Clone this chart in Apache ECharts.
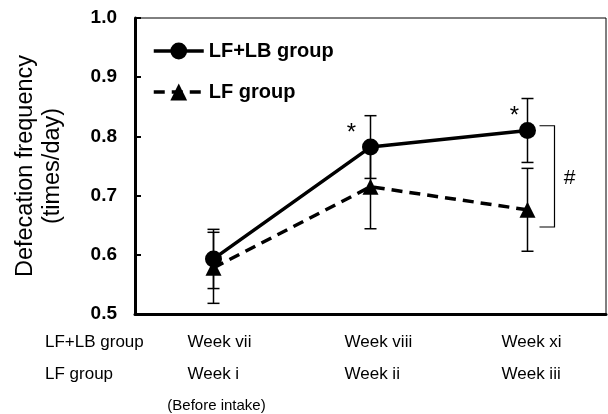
<!DOCTYPE html>
<html>
<head>
<meta charset="utf-8">
<script src="https://cdn.jsdelivr.net/npm/echarts@6/dist/echarts.min.js"></script>
<style>html,body{margin:0;padding:0;background:#fff}#c{width:608px;height:414px}</style>
</head>
<body>
<div id="c"></div>
<script>
const categories = ['Week vii', 'Week viii', 'Week xi'];
const lfWeeks = ['Week i', 'Week ii', 'Week iii'];
const rowLabels = ['LF+LB group', 'LF group'];
const seriesNames = ['LF+LB group', 'LF group'];
const lfLbMean = [0.593, 0.782, 0.810];
const lfLbSd = [0.050, 0.053, 0.054];
const lfMean = [0.578, 0.715, 0.676];
const lfSd = [0.060, 0.071, 0.070];
const yTicks = [0.5, 0.6, 0.7, 0.8, 0.9, 1.0];
const yName = ['Defecation frequency', '(times/day)'];
const beforeNote = '(Before intake)';
const starIdx = [1, 2];
const bracket = [0.818, 0.647];

const FONT = '"Liberation Sans", Arial, sans-serif';
const chart = echarts.init(document.getElementById('c'), null, {renderer: 'canvas'});

function errRender(params, api) {
  const x = api.value(0), m = api.value(1), s = api.value(2);
  const t = api.coord([x, m + s]), b = api.coord([x, m - s]);
  const st = {stroke: '#000', lineWidth: 1.5};
  const h = 6;
  return {type: 'group', children: [
    {type: 'line', shape: {x1: t[0], y1: t[1], x2: b[0], y2: b[1]}, style: st},
    {type: 'line', shape: {x1: t[0] - h, y1: t[1], x2: t[0] + h, y2: t[1]}, style: st},
    {type: 'line', shape: {x1: b[0] - h, y1: b[1], x2: b[0] + h, y2: b[1]}, style: st}
  ]};
}

chart.setOption({
  animation: false,
  grid: {left: 135, right: 2, top: 18, bottom: 100, show: true, borderColor: '#000', borderWidth: 1},
  legend: {
    orient: 'vertical', left: 147, top: 36, itemWidth: 50, itemHeight: 21, itemGap: 21,
    data: seriesNames,
    lineStyle: {width: 3.5},
    textStyle: {fontFamily: FONT, fontSize: 20, fontWeight: 'bold', color: '#000', padding: [0, 0, 0, 0]}
  },
  xAxis: {
    type: 'category', data: categories, boundaryGap: true,
    axisLine: {lineStyle: {color: '#000', width: 3}},
    axisTick: {show: false}, axisLabel: {show: false}, splitLine: {show: false}
  },
  yAxis: {
    type: 'value', min: 0.5, max: 1.0, interval: 0.1,
    axisLine: {show: true, lineStyle: {color: '#000', width: 3}},
    axisTick: {show: true, inside: true, length: 6, lineStyle: {color: '#000', width: 2}},
    axisLabel: {margin: 18, fontFamily: FONT, fontSize: 19, fontWeight: 'bold', color: '#000',
      formatter: v => v.toFixed(1)},
    splitLine: {show: false}
  },
  series: [
    {type: 'custom', name: 'errLfLb', renderItem: errRender, encode: {x: 0, y: 1}, z: 1,
      data: lfLbMean.map((m, i) => [i, m, lfLbSd[i]]), silent: true},
    {type: 'custom', name: 'errLf', renderItem: errRender, encode: {x: 0, y: 1}, z: 1,
      data: lfMean.map((m, i) => [i, m, lfSd[i]]), silent: true},
    {type: 'line', name: seriesNames[1], data: lfMean, symbol: 'triangle', symbolSize: 16, z: 3,
      lineStyle: {color: '#000', width: 3.5, type: [11, 7]}, itemStyle: {color: '#000'}},
    {type: 'line', name: seriesNames[0], data: lfLbMean, symbol: 'circle', symbolSize: 17, z: 4,
      lineStyle: {color: '#000', width: 3.5}, itemStyle: {color: '#000'}}
  ]
});

const px = (i, v) => chart.convertToPixel({xAxisIndex: 0, yAxisIndex: 0}, [i, v]);
const g = [];
const txt = (x, y, text, opt) => g.push({type: 'text', x: x, y: y, silent: true,
  style: Object.assign({text: text, fill: '#000', font: '17px ' + FONT, align: 'left', verticalAlign: 'middle'}, opt || {})});

const rowY1 = 342, rowY2 = 374;
txt(45, rowY1, rowLabels[0]);
txt(45, rowY2, rowLabels[1]);
categories.forEach((c, i) => {
  const p = px(i, 0.5);
  txt(p[0] - 26, rowY1, c);
  txt(p[0] - 26, rowY2, lfWeeks[i]);
});
const p0 = px(0, 0.5);
txt(p0[0] + 3, 406, beforeNote, {font: '15px ' + FONT, align: 'center'});

starIdx.forEach((i, k) => {
  const p = px(i, lfLbMean[i]);
  txt(p[0] - (k === 0 ? 19 : 13), p[1] - 14, '*', {font: '24px ' + FONT, align: 'center'});
});

const bt = px(2, bracket[0]), bb = px(2, bracket[1]);
const bx1 = bt[0] + 12, bx2 = bt[0] + 27;
g.push({type: 'polyline', silent: true, shape: {points: [[bx1, bt[1]], [bx2, bt[1]], [bx2, bb[1]], [bx1, bb[1]]]},
  style: {stroke: '#000', lineWidth: 1.2, fill: null}});
txt(bx2 + 15, (bt[1] + bb[1]) / 2 + 2, '#', {font: '21px ' + FONT, align: 'center'});

g.push({type: 'text', x: 39, y: 166, rotation: Math.PI / 2, silent: true,
  style: {text: yName.join('\n'), fill: '#000', font: '23.5px ' + FONT, align: 'center', verticalAlign: 'middle', lineHeight: 27}});

chart.setOption({graphic: g});
</script>
</body>
</html>
